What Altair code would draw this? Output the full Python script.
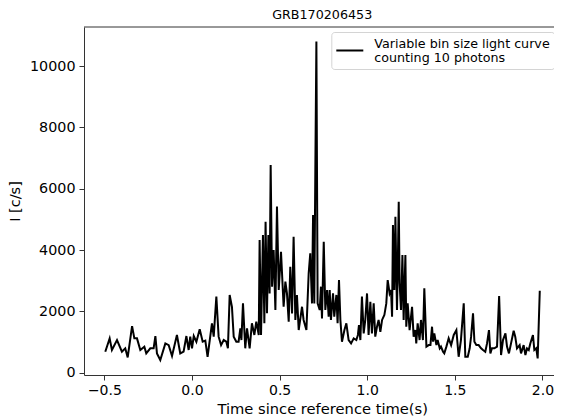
import altair as alt
import pandas as pd

times = [-0.495, -0.470, -0.457, -0.428, -0.400, -0.381, -0.367, -0.342, -0.329, -0.314,
         -0.295, -0.272, -0.261, -0.238, -0.219, -0.209, -0.200, -0.181, -0.152, -0.133,
         -0.114, -0.086, -0.067, -0.048, -0.032, -0.019, -0.010, 0.000, 0.010, 0.025,
         0.044, 0.061, 0.076, 0.089, 0.114, 0.124, 0.139, 0.152, 0.166, 0.181,
         0.196, 0.205, 0.215, 0.228, 0.238, 0.253, 0.266, 0.276, 0.282, 0.291,
         0.304, 0.314, 0.329, 0.342, 0.356, 0.367, 0.381, 0.386, 0.394, 0.405,
         0.413, 0.420, 0.428, 0.436, 0.443, 0.449, 0.457, 0.466, 0.476, 0.485,
         0.495, 0.508, 0.523, 0.533, 0.542, 0.552, 0.561, 0.571, 0.580, 0.590,
         0.599, 0.609, 0.628, 0.637, 0.653, 0.666, 0.675, 0.685, 0.691, 0.698,
         0.704, 0.710, 0.717, 0.729, 0.736, 0.742, 0.752, 0.761, 0.771, 0.780,
         0.786, 0.793, 0.805, 0.812, 0.824, 0.831, 0.839, 0.847, 0.856, 0.870,
         0.881, 0.894, 0.908, 0.923, 0.938, 0.947, 0.953, 0.961, 0.970, 0.980,
         0.989, 0.999, 1.008, 1.018, 1.027, 1.037, 1.046, 1.056, 1.065, 1.075,
         1.085, 1.098, 1.109, 1.117, 1.128, 1.136, 1.142, 1.147, 1.155, 1.161,
         1.166, 1.170, 1.174, 1.180, 1.185, 1.193, 1.201, 1.208, 1.218, 1.223,
         1.231, 1.242, 1.256, 1.265, 1.275, 1.280, 1.288, 1.299, 1.307, 1.318,
         1.326, 1.338, 1.351, 1.361, 1.370, 1.376, 1.383, 1.395, 1.402, 1.414,
         1.421, 1.433, 1.440, 1.452, 1.465, 1.479, 1.494, 1.509, 1.522, 1.535,
         1.551, 1.560, 1.574, 1.585, 1.593, 1.604, 1.612, 1.623, 1.636, 1.650,
         1.661, 1.674, 1.684, 1.695, 1.703, 1.712, 1.726, 1.741, 1.753, 1.764,
         1.775, 1.789, 1.798, 1.809, 1.821, 1.836, 1.845, 1.855, 1.870, 1.878,
         1.893, 1.903, 1.912, 1.922, 1.931, 1.946, 1.954, 1.965, 1.973, 1.985]

rates = [685, 1120, 740, 1065, 685, 795, 500, 1520, 1120, 1120,
         740, 850, 630, 795, 795, 1195, 630, 415, 955, 900,
         545, 1230, 630, 685, 1195, 740, 1175, 795, 1195, 1010,
         1415, 1010, 1045, 520, 1610, 1175, 2480, 1175, 900, 1065,
         1010, 795, 2535, 2150, 1175, 1010, 1010, 1445, 1065, 2260,
         795, 1445, 795, 1610, 1230, 1665, 1230, 4325, 1230, 4490,
         1610, 4925, 1935, 4490, 2585, 6770, 2805, 4000, 2045, 5415,
         2695, 3945, 2150, 2970, 2585, 1665, 3455, 1935, 4435, 1720,
         2535, 1390, 2150, 1720, 1390, 3240, 3890, 2260, 5140, 2260,
         6610, 10795, 2260, 2045, 2805, 1770, 4270, 2045, 2695, 1825,
         2695, 1720, 2585, 1825, 2535, 1610, 3020, 1720, 1010, 1390,
         1610, 1065, 955, 1120, 1065, 1230, 1555, 1065, 2480, 1280,
         1720, 2585, 1230, 2315, 1280, 2260, 1175, 1500, 1720, 1335,
         1720, 1880, 2260, 3020, 2585, 2695, 1825, 4815, 2695, 5085,
         3350, 2045, 3240, 5575, 2915, 2045, 3835, 1720, 3835, 1500,
         2260, 1390, 2150, 1175, 1390, 955, 1610, 1065, 1720, 1065,
         2750, 850, 900, 900, 1500, 1010, 1280, 900, 1065, 795,
         850, 685, 630, 850, 1120, 900, 1230, 1390, 520, 1065,
         2260, 520, 520, 795, 1175, 1935, 1010, 900, 900, 795,
         740, 685, 955, 1390, 630, 795, 795, 850, 2500, 575,
         1065, 1280, 850, 630, 955, 1370, 1175, 795, 900, 630,
         900, 575, 795, 740, 955, 1230, 740, 795, 465, 2675]

series_label = "Variable bin size light curve|counting 10 photons"
x_ticks = [-0.5, 0.0, 0.5, 1.0, 1.5, 2.0]
y_ticks = [0, 2000, 4000, 6000, 8000, 10000]
chart_title = "GRB170206453"
x_title = "Time since reference time(s)"
y_title = "I [c/s]"

df = pd.DataFrame({"t": times, "rate": rates, "series": [series_label] * len(times)})

W, H = 470, 348
FONT = "DejaVu Sans"
SPINE = "#333333"
CENTER = 238.2  # centre of the original axes box, relative to the plot's left edge

line = alt.Chart(df).mark_line(strokeWidth=2, interpolate="linear").encode(
    x=alt.X("t:Q",
            scale=alt.Scale(domain=[-0.6164, 2.0662], nice=False, zero=False),
            axis=alt.Axis(values=x_ticks, format=".1f", title=x_title,
                          grid=False, tickSize=5, tickWidth=1, tickColor=SPINE,
                          domainColor=SPINE, domainWidth=1,
                          labelFont=FONT, labelFontSize=14, labelColor="black",
                          labelBaseline="alphabetic", labelPadding=14.3,
                          titleFont=FONT, titleFontSize=14.7, titleFontWeight="normal",
                          titleColor="black", titleBaseline="alphabetic",
                          titleX=CENTER, titleY=38.5, titleAlign="center")),
    y=alt.Y("rate:Q",
            scale=alt.Scale(domain=[-75, 11272], nice=False, zero=False),
            axis=alt.Axis(values=y_ticks, format="d", title=y_title,
                          grid=False, tickSize=5, tickWidth=1, tickColor=SPINE,
                          domainColor=SPINE, domainWidth=1,
                          labelFont=FONT, labelFontSize=14.3, labelColor="black",
                          labelPadding=4,
                          titleFont=FONT, titleFontSize=14.5, titleFontWeight="normal",
                          titleColor="black", titleAngle=270, titleBaseline="middle",
                          titleAlign="center", titleX=-68.7, titleY=H / 2)),
    color=alt.Color("series:N",
                    scale=alt.Scale(range=["black"]),
                    legend=alt.Legend(title=None, orient="none", legendX=247.3, legendY=5,
                                      symbolType="stroke", symbolSize=729,
                                      symbolStrokeWidth=2, labelOffset=10,
                                      labelFont=FONT, labelFontSize=12.7,
                                      labelColor="black", labelLimit=400,
                                      labelBaseline="bottom",
                                      labelExpr="split(datum.label, '|')",
                                      padding=4, strokeColor="#d4d4d4",
                                      fillColor="white", cornerRadius=3)),
)

top_spine = alt.Chart(pd.DataFrame({"k": [0]})).mark_rule(color=SPINE, strokeWidth=1).encode(
    x=alt.value(0), x2=alt.value(W), y=alt.value(0)
)

chart = alt.layer(line, top_spine).properties(
    width=W, height=H,
    title=alt.TitleParams(chart_title, font=FONT, fontSize=12.7, fontWeight="normal",
                          color="black", anchor="middle", frame="group", offset=5,
                          baseline="alphabetic", dx=CENTER - W / 2, dy=10),
    autosize=alt.AutoSizeParams(type="none"),
    padding={"left": 76, "top": 19, "right": 0, "bottom": 42},
).configure_view(stroke=None)

chart.save("out.html", embed_options={"renderer": "svg", "actions": False})
